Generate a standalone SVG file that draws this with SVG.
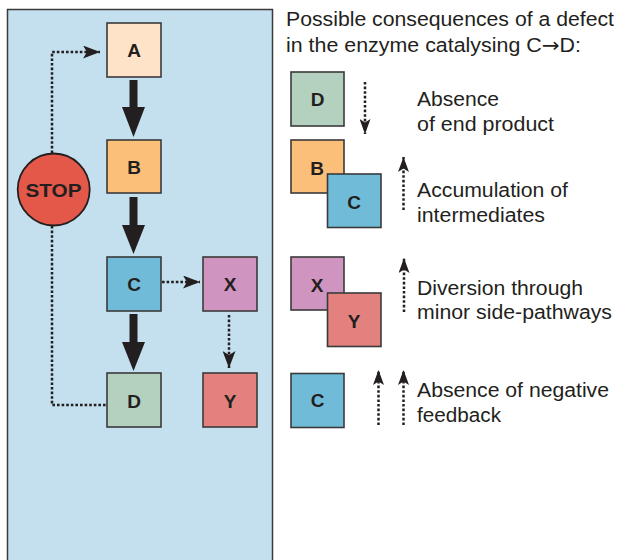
<svg xmlns="http://www.w3.org/2000/svg" width="619" height="560" viewBox="0 0 619 560">
<style>
.box{stroke:#3a3a3a;stroke-width:1.6}
.lbl{font-family:"Liberation Sans",Arial,sans-serif;font-weight:bold;font-size:19px;fill:#231f20;text-anchor:middle}
.txt{font-family:"Liberation Sans",Arial,sans-serif;font-size:19.5px;fill:#231f20}
.dot{fill:none;stroke:#231f20;stroke-width:2.5;stroke-dasharray:2.6 2}
.thick{fill:#231f20}
</style>
<defs>
<marker id="ah" markerUnits="userSpaceOnUse" viewBox="0 0 17 13" refX="17" refY="6.5" markerWidth="17" markerHeight="13" orient="auto">
<path d="M0,0 L17,6.5 L0,13 L4,6.5 Z" fill="#231f20"/>
</marker>
<marker id="ahs" markerUnits="userSpaceOnUse" viewBox="0 0 15 11" refX="15" refY="5.5" markerWidth="15" markerHeight="11" orient="auto">
<path d="M0,0 L15,5.5 L0,11 L3.5,5.5 Z" fill="#231f20"/>
</marker>
</defs>
<rect width="619" height="560" fill="#ffffff"/>
<rect id="panel" x="7.5" y="9.5" width="265" height="560" fill="#c4e0ee" stroke="#3a3a3a" stroke-width="1.5"/>

<g id="connectors">
<polygon class="thick" points="129.5,80 137.5,80 137.5,107 145,107 133.5,137 122,107 129.5,107"/>
<polygon class="thick" points="129.5,197 137.5,197 137.5,225 145,225 133.5,254 122,225 129.5,225"/>
<polygon class="thick" points="129.5,314 137.5,314 137.5,342 145,342 133.5,371 122,342 129.5,342"/>
<path class="dot" d="M52,153 L52,52 L100,52" marker-end="url(#ah)"/>
<path class="dot" d="M52,226 L52,405 L107,405"/>
<path class="dot" d="M162,282 L200,282" marker-end="url(#ah)"/>
<path class="dot" d="M229,315 L229,368" marker-end="url(#ah)"/>
<path class="dot" d="M365,82 L365,134" marker-end="url(#ahs)"/>
<path class="dot" d="M403.5,210 L403.5,157" marker-end="url(#ahs)"/>
<path class="dot" d="M404,312 L404,258" marker-end="url(#ahs)"/>
<path class="dot" d="M378.5,425 L378.5,370" marker-end="url(#ahs)"/>
<path class="dot" d="M403.5,425 L403.5,370" marker-end="url(#ahs)"/>
</g>

<g id="stop">
<circle cx="53.7" cy="189.5" r="36" fill="#e4584a" stroke="#231f20" stroke-width="1.8"/>
<text class="lbl" x="53.5" y="196.5" font-size="18.5" textLength="56" lengthAdjust="spacingAndGlyphs">STOP</text>
</g>
<g id="nodeA"><rect class="box" x="107" y="23" width="54" height="54" fill="#fee3c8"/><text class="lbl" x="134" y="57">A</text></g>
<g id="nodeB"><rect class="box" x="107" y="140" width="54" height="53" fill="#fbbf79"/><text class="lbl" x="134" y="174">B</text></g>
<g id="nodeC"><rect class="box" x="107" y="257" width="54" height="54" fill="#70bcd8"/><text class="lbl" x="134" y="291">C</text></g>
<g id="nodeD"><rect class="box" x="107" y="373" width="54" height="54" fill="#b4d0bf"/><text class="lbl" x="134" y="408">D</text></g>
<g id="nodeX"><rect class="box" x="203" y="257" width="54" height="54" fill="#d094c1"/><text class="lbl" x="230" y="291">X</text></g>
<g id="nodeY"><rect class="box" x="203" y="373" width="54" height="54" fill="#e2817d"/><text class="lbl" x="230" y="408">Y</text></g>

<g id="header">
<text class="txt" x="286" y="26" font-size="18.8" textLength="328" lengthAdjust="spacingAndGlyphs">Possible consequences of a defect</text>
<text class="txt" x="286" y="51.5" font-size="18.8" textLength="295" lengthAdjust="spacingAndGlyphs">in the enzyme catalysing C<tspan font-family="'Noto Sans','DejaVu Sans',sans-serif">→</tspan>D:</text>
</g>

<g id="r1">
<rect class="box" x="291" y="72" width="53" height="54" fill="#b4d0bf"/><text class="lbl" x="317.5" y="105.5">D</text>
<text class="txt" x="417" y="106" textLength="82" lengthAdjust="spacingAndGlyphs">Absence</text>
<text class="txt" x="417" y="131" textLength="137" lengthAdjust="spacingAndGlyphs">of end product</text>
</g>
<g id="r2">
<rect class="box" x="291" y="140" width="53" height="53" fill="#fbbf79"/><text class="lbl" x="317" y="175">B</text>
<rect class="box" x="327.5" y="174" width="53.5" height="53.5" fill="#70bcd8"/><text class="lbl" x="354" y="208.5">C</text>
<text class="txt" x="417" y="197" textLength="151" lengthAdjust="spacingAndGlyphs">Accumulation of</text>
<text class="txt" x="417" y="222" textLength="128" lengthAdjust="spacingAndGlyphs">intermediates</text>
</g>
<g id="r3">
<rect class="box" x="291" y="257" width="53" height="53" fill="#d094c1"/><text class="lbl" x="317" y="292">X</text>
<rect class="box" x="327.5" y="293" width="53.5" height="53.5" fill="#e2817d"/><text class="lbl" x="354" y="327.5">Y</text>
<text class="txt" x="417" y="294.5" textLength="166" lengthAdjust="spacingAndGlyphs">Diversion through</text>
<text class="txt" x="417" y="319" textLength="195" lengthAdjust="spacingAndGlyphs">minor side-pathways</text>
</g>
<g id="r4">
<rect class="box" x="291" y="373.5" width="53" height="54" fill="#70bcd8"/><text class="lbl" x="317.5" y="406.5">C</text>
<text class="txt" x="417" y="397" textLength="192" lengthAdjust="spacingAndGlyphs">Absence of negative</text>
<text class="txt" x="417" y="422" textLength="84" lengthAdjust="spacingAndGlyphs">feedback</text>
</g>
</svg>
